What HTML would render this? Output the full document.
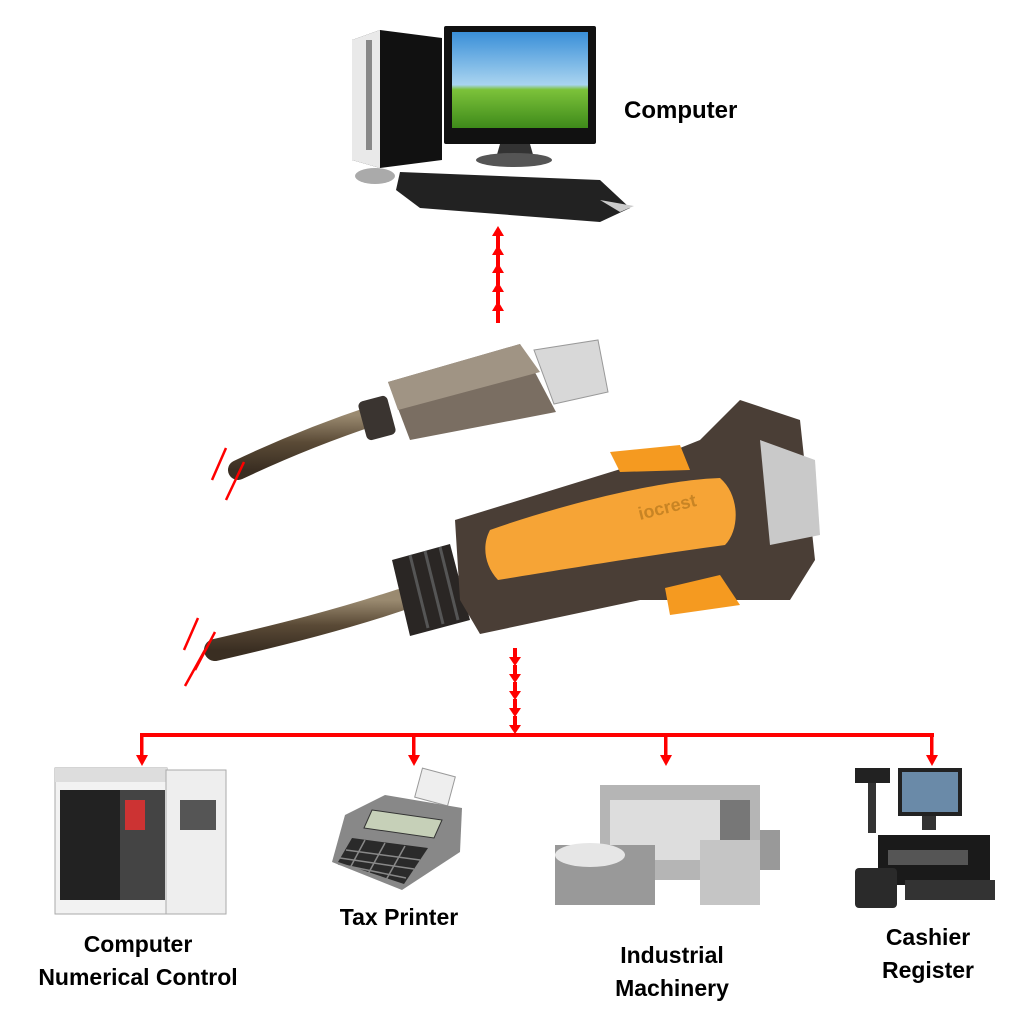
<!DOCTYPE html>
<html><head><meta charset="utf-8"><style>
html,body{margin:0;padding:0;background:#fff;}
svg{display:block}
text{font-family:"Liberation Sans",Arial,sans-serif;font-weight:bold;fill:#000}
</style></head><body>
<svg width="1024" height="1024" viewBox="0 0 1024 1024" xmlns="http://www.w3.org/2000/svg">
<defs>
<linearGradient id="sky" x1="0" y1="0" x2="0" y2="1"><stop offset="0" stop-color="#3a8fd8"/><stop offset="0.55" stop-color="#a9d4f0"/><stop offset="0.6" stop-color="#7cc23a"/><stop offset="1" stop-color="#3e8a1a"/></linearGradient>
<linearGradient id="cable" x1="0" y1="0" x2="0" y2="1"><stop offset="0" stop-color="#9a8a70"/><stop offset="0.5" stop-color="#5a4a36"/><stop offset="1" stop-color="#3a2e22"/></linearGradient>
</defs>

<!-- Computer -->
<polygon points="352,40 380,30 442,38 442,160 380,168 352,160" fill="#111"/>
<polygon points="352,40 380,30 380,168 352,160" fill="#e9e9e9"/>
<rect x="366" y="40" width="6" height="110" fill="#888"/>
<rect x="444" y="26" width="152" height="118" fill="#111" rx="2"/>
<rect x="452" y="32" width="136" height="96" fill="url(#sky)"/>
<polygon points="500,144 530,144 534,158 496,158" fill="#333"/>
<ellipse cx="514" cy="160" rx="38" ry="7" fill="#555"/>
<polygon points="400,172 600,180 630,208 600,222 420,208 396,190" fill="#222"/>
<polygon points="600,200 634,206 620,212" fill="#ccc"/>
<ellipse cx="375" cy="176" rx="20" ry="8" fill="#aaa"/>
<text x="624" y="118" font-size="24">Computer</text>

<!-- top arrows -->
<g fill="#f00">
<g id="ua"><rect x="496" y="234" width="4" height="14"/><polygon points="492,236 498,226 504,236"/></g>
<use href="#ua" y="19"/><use href="#ua" y="37"/><use href="#ua" y="56"/><use href="#ua" y="75"/>
</g>

<!-- USB cable -->
<path d="M238,470 C280,450 330,430 375,415" stroke="url(#cable)" stroke-width="20" fill="none" stroke-linecap="round"/>
<rect x="362" y="398" width="30" height="40" fill="#3a3430" rx="5" transform="rotate(-15 377 418)"/>
<polygon points="388,382 520,344 556,412 410,440" fill="#7a6e62"/>
<polygon points="388,382 520,344 540,372 398,410" fill="#a09484"/>
<polygon points="534,350 598,340 608,392 554,404" fill="#d8d8d8" stroke="#999"/>
<path d="M226,448 L212,480 M244,462 L226,500" stroke="#f00" stroke-width="2.5"/>

<!-- Serial adapter cable -->
<path d="M215,650 C280,635 340,620 400,600" stroke="url(#cable)" stroke-width="22" fill="none" stroke-linecap="round"/>
<polygon points="392,560 450,544 470,620 410,636" fill="#2a2624"/>
<g stroke="#555" stroke-width="3"><line x1="410" y1="555" x2="428" y2="628"/><line x1="425" y1="551" x2="443" y2="624"/><line x1="440" y1="547" x2="458" y2="620"/></g>
<polygon points="455,520 650,460 700,440 740,400 800,420 815,560 790,600 640,600 480,634 460,600" fill="#4a3e36"/>
<polygon points="610,452 680,445 690,470 620,472" fill="#f59a20"/>
<polygon points="665,588 720,575 740,605 670,615" fill="#f59a20"/>
<path d="M490,530 C560,505 660,480 720,478 C740,495 740,530 725,545 C650,555 560,570 498,580 C484,565 482,545 490,530 Z" fill="#f6a436"/>
<text x="640" y="520" font-size="18" transform="rotate(-14 640 520)" style="fill:#c88424">iocrest</text>
<polygon points="760,440 815,460 820,535 770,545" fill="#c9c9c9"/>
<path d="M198,618 L184,650 M215,632 L195,670 M205,650 L185,686" stroke="#f00" stroke-width="2.5"/>

<!-- bottom arrows -->
<g fill="#f00">
<g id="da"><rect x="513" y="648" width="4" height="11"/><polygon points="509,657 515,666 521,657"/></g>
<use href="#da" y="17"/><use href="#da" y="34"/><use href="#da" y="51"/><use href="#da" y="68"/>
<rect x="140" y="733" width="794" height="4"/>
<g id="drop"><rect x="140" y="733" width="3.5" height="24"/><polygon points="136,755 142,766 148,755"/></g>
<use href="#drop" x="272"/><use href="#drop" x="524"/><use href="#drop" x="790"/>
</g>

<!-- CNC -->
<rect x="55" y="768" width="112" height="146" fill="#f2f2f2" stroke="#aaa"/>
<rect x="55" y="768" width="112" height="14" fill="#ddd"/>
<rect x="60" y="790" width="60" height="110" fill="#222"/>
<rect x="120" y="790" width="45" height="110" fill="#444"/>
<rect x="125" y="800" width="20" height="30" fill="#c33"/>
<rect x="166" y="770" width="60" height="144" fill="#eee" stroke="#aaa"/>
<rect x="180" y="800" width="36" height="30" fill="#555"/>
<text x="138" y="952" font-size="23" text-anchor="middle">Computer</text>
<text x="138" y="985" font-size="23" text-anchor="middle">Numerical Control</text>

<!-- Tax printer -->
<rect x="418" y="772" width="34" height="30" fill="#eee" stroke="#999" transform="rotate(15 435 787)"/>
<polygon points="345,815 385,795 462,808 460,852 402,890 332,862" fill="#888"/>
<polygon points="372,810 442,820 434,838 364,828" fill="#c6d0b8" stroke="#333"/>
<polygon points="352,838 428,848 404,884 338,862" fill="#2a2a2a"/>
<g stroke="#888" stroke-width="1.5">
<line x1="346" y1="850" x2="420" y2="860"/><line x1="340" y1="858" x2="414" y2="869"/><line x1="338" y1="864" x2="406" y2="878"/>
<line x1="365" y1="840" x2="350" y2="868"/><line x1="385" y1="843" x2="368" y2="874"/><line x1="405" y1="846" x2="386" y2="880"/>
</g>
<text x="399" y="925" font-size="23" text-anchor="middle">Tax Printer</text>

<!-- Industrial machinery -->
<rect x="600" y="785" width="160" height="95" fill="#b5b5b5"/>
<rect x="610" y="800" width="110" height="60" fill="#ddd"/>
<rect x="720" y="800" width="30" height="40" fill="#777"/>
<rect x="555" y="845" width="100" height="60" fill="#999"/>
<ellipse cx="590" cy="855" rx="35" ry="12" fill="#e6e6e6"/>
<rect x="700" y="840" width="60" height="65" fill="#c5c5c5"/>
<rect x="760" y="830" width="20" height="40" fill="#999"/>
<text x="672" y="963" font-size="23" text-anchor="middle">Industrial</text>
<text x="672" y="996" font-size="23" text-anchor="middle">Machinery</text>

<!-- Cashier register -->
<rect x="898" y="768" width="64" height="48" fill="#222"/>
<rect x="902" y="772" width="56" height="40" fill="#6a8aa8"/>
<rect x="922" y="816" width="14" height="14" fill="#333"/>
<rect x="855" y="768" width="35" height="15" fill="#222"/>
<rect x="868" y="783" width="8" height="50" fill="#333"/>
<rect x="878" y="835" width="112" height="50" fill="#1a1a1a"/>
<rect x="888" y="850" width="80" height="15" fill="#555"/>
<rect x="855" y="868" width="42" height="40" fill="#2a2a2a" rx="4"/>
<rect x="905" y="880" width="90" height="20" fill="#333"/>
<text x="928" y="945" font-size="23" text-anchor="middle">Cashier</text>
<text x="928" y="978" font-size="23" text-anchor="middle">Register</text>
</svg>
</body></html>
